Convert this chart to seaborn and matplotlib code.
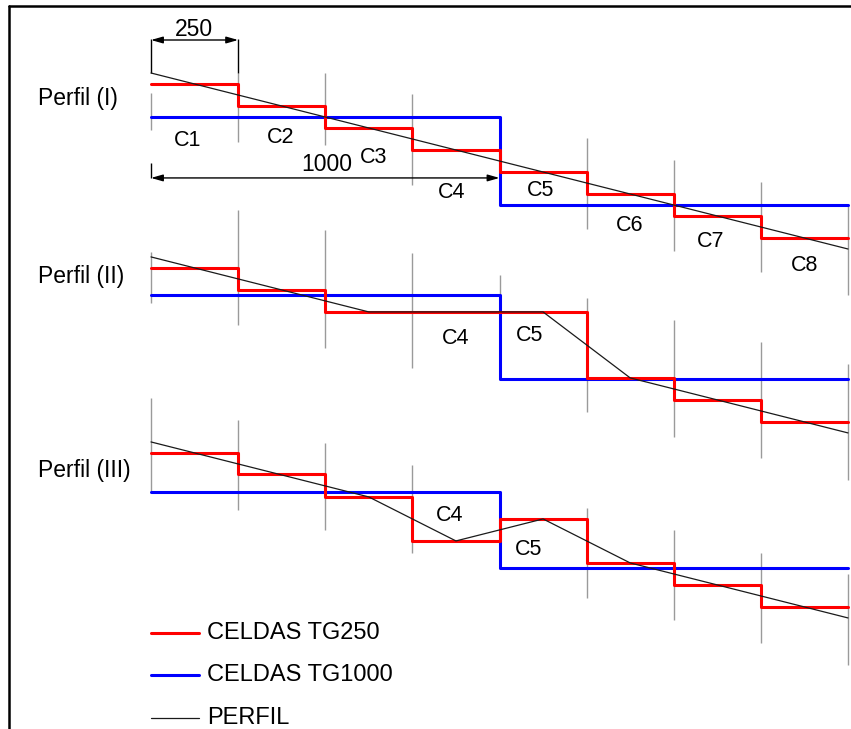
import numpy as np
import pandas as pd
import matplotlib.pyplot as plt
from matplotlib.lines import Line2D
import seaborn as sns

# Cell borders (m) and labels
bordes = [0, 250, 500, 750, 1000, 1250, 1500, 1750, 2000]
bloques = [0, 1000, 2000]
celdas = ["C1", "C2", "C3", "C4", "C5", "C6", "C7", "C8"]

# Perfil (I): elevations
perfil1_x = [0, 2000]
perfil1_z = [100, 20]
tg250_1 = [95, 85, 75, 65, 55, 45, 35, 25]
tg1000_1 = [80, 40]

# Perfil (II)
perfil2_x = [0, 625, 1125, 1375, 2000]
perfil2_z = [100, 75, 75, 45, 20]
tg250_2 = [95, 85, 75, 75, 75, 45, 35, 25]
tg1000_2 = [82.5, 44.5]

# Perfil (III)
perfil3_x = [0, 625, 875, 1125, 1375, 2000]
perfil3_z = [100, 75, 55, 65, 45, 20]
tg250_3 = [95, 85.5, 75, 55, 65, 45, 35, 25]
tg1000_3 = [77.3, 42.7]

# grey cell separators (top / bottom elevation at each border)
guia1_top = [91, 100, 100, 90.5, 80, 70.5, 60.5, 50.5, 40]
guia1_bot = [74, 68.5, 67.5, 49, 40, 29, 19, 9.5, -1]
guia2_top = [102.3, 121.4, 112.3, 101.8, 91.8, 81.4, 71.4, 61.4, 51.4]
guia2_bot = [79.1, 69.1, 58.6, 49.5, 44.1, 29.5, 18.2, 8.6, -1.4]
guia3_top = [120, 110, 99.5, 89.5, 77.7, 70, 60, 49.5, 40]
guia3_bot = [77.3, 69.1, 60, 49.5, 43.2, 29.1, 19.1, 8.6, -1.4]

perfiles = [
    ("Perfil (I)", perfil1_x, perfil1_z, tg250_1, tg1000_1, guia1_top, guia1_bot),
    ("Perfil (II)", perfil2_x, perfil2_z, tg250_2, tg1000_2, guia2_top, guia2_bot),
    ("Perfil (III)", perfil3_x, perfil3_z, tg250_3, tg1000_3, guia3_top, guia3_bot),
]
desfase = [0, 83.6, 167.7]   # vertical shift of each profile on the sheet
etiqueta_y = [98, 276, 471]  # pixel rows of the profile names

# cell labels (x, elevation) per profile
etiquetas = [
    [("C1", 106, 69.1), ("C2", 373, 70.5), ("C3", 640, 61.4), ("C4", 864, 45.5),
     ("C5", 1119, 46.4), ("C6", 1372, 30.9), ("C7", 1607, 23.6), ("C8", 1874, 12.7)],
    [("C4", 875, 62.7), ("C5", 1085, 64.1)],
    [("C4", 858, 66.4), ("C5", 1082, 51.0)],
]

sns.set_style("white")
plt.rcParams["font.family"] = ["Liberation Sans", "DejaVu Sans"]
plt.rcParams["text.color"] = "black"

W, H = 851, 729
fig = plt.figure(figsize=(W / 100, H / 100), dpi=100)
ax = fig.add_axes([0, 0, 1, 1])
k = 697 / 2000
ax.set_xlim(-151 / k, (W - 151) / k)
ax.set_ylim(100 - (H - 73) / 2.2, 100 + 73 / 2.2)
ax.axis("off")

for i, (nombre, px_, pz, t250, t1000, gtop, gbot) in enumerate(perfiles):
    s = desfase[i]
    ax.vlines(bordes, np.array(gbot) - s, np.array(gtop) - s, color="#9a9a9a", lw=1.0, zorder=1)
    sns.lineplot(x=bloques, y=np.array(t1000 + [t1000[-1]]) - s, ax=ax, color="#0000ff",
                 lw=2.2, drawstyle="steps-post", estimator=None, zorder=2)
    sns.lineplot(x=bordes, y=np.array(t250 + [t250[-1]]) - s, ax=ax, color="#ff0000",
                 lw=2.2, drawstyle="steps-post", estimator=None, zorder=3)
    sns.lineplot(x=px_, y=np.array(pz) - s, ax=ax, color="#1a1a1a", lw=0.9,
                 estimator=None, sort=False, zorder=4)
    fig.text(38 / W, 1 - etiqueta_y[i] / H, nombre, fontsize=16.5, va="center", ha="left",
             color="black")
    for txt, cx, cz in etiquetas[i]:
        ax.text(cx, cz - s, txt, fontsize=15.5, ha="center", va="center", color="black")

# dimension lines
arr = dict(arrowstyle="<|-|>,head_length=0.7,head_width=0.2", color="black", lw=1,
           shrinkA=0, shrinkB=0)
ax.annotate("", xy=(0, 115), xytext=(250, 115), arrowprops=arr)
ax.vlines([0, 250], 100, 115.5, color="black", lw=1)
ax.text(123, 119.8, "250", fontsize=16.5, ha="center", va="center", color="black")
ax.annotate("", xy=(0, 52.3), xytext=(1000, 52.3), arrowprops=arr)
ax.vlines([0], 52.3, 59.1, color="black", lw=1)
ax.text(505, 58.6, "1000", fontsize=16.5, ha="center", va="center", color="black")

# legend
leyenda = [("CELDAS TG250", "#ff0000", 2.2, 633), ("CELDAS TG1000", "#0000ff", 2.2, 675),
           ("PERFIL", "#1a1a1a", 0.9, 718)]
for txt, col, lw, yy in leyenda:
    fig.add_artist(Line2D([151 / W, 199 / W], [1 - yy / H] * 2, color=col, lw=lw))
    fig.text(207 / W, 1 - yy / H, txt, fontsize=17, va="center", ha="left", color="black")

# sheet frame (top and left)
fig.add_artist(Line2D([8.5 / W, 1], [1 - 6 / H] * 2, color="black", lw=1.8))
fig.add_artist(Line2D([8.5 / W] * 2, [0, 1 - 6 / H], color="black", lw=1.8))

fig.savefig("out.png", dpi=100)
